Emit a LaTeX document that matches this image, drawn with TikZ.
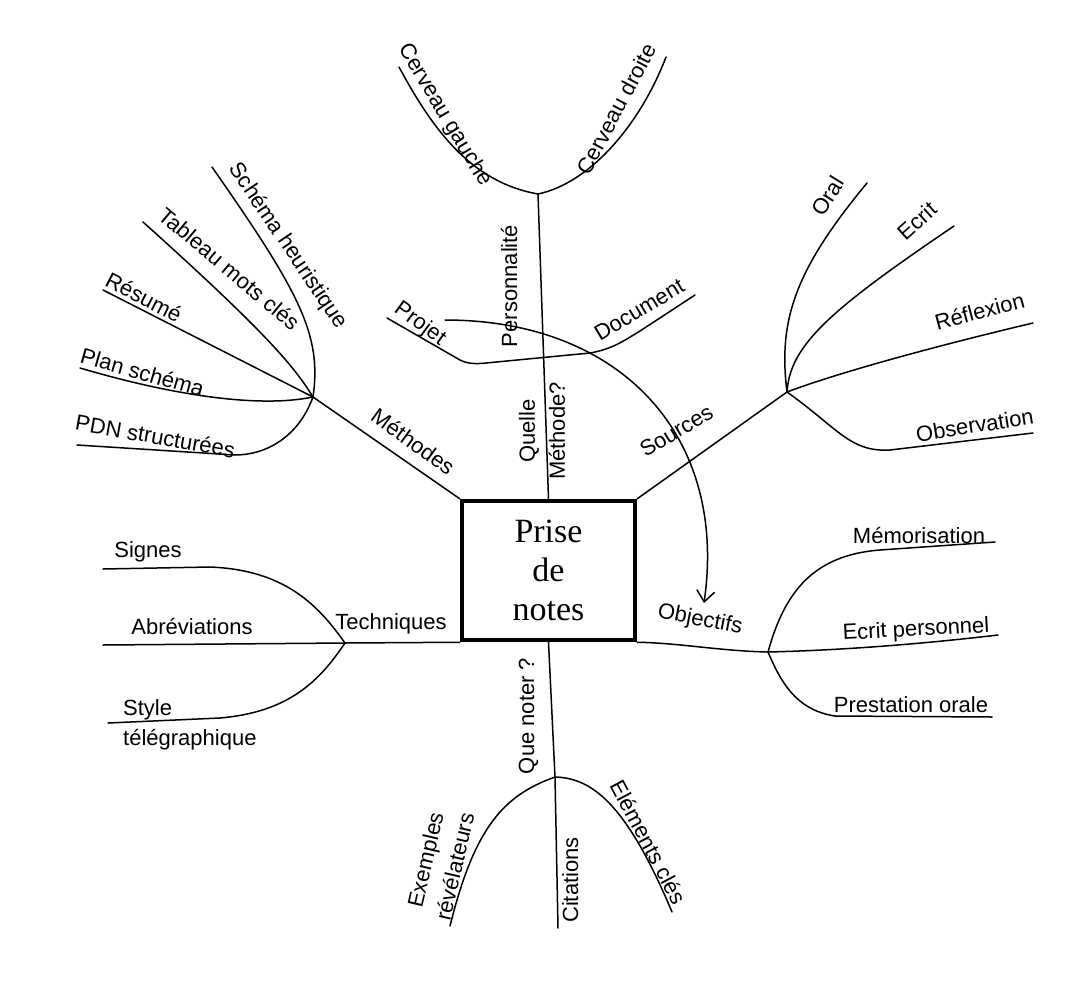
\documentclass[tikz,border=0pt]{standalone}
\usepackage{fontspec}
\setmainfont{Liberation Sans}
\newfontfamily\serifface{Liberation Serif}
\usetikzlibrary{arrows.meta}

\begin{document}
\begin{tikzpicture}[x=1pt,y=-1pt,
  >={Straight Barb[length=11pt,width=18pt]},
  branch/.style={line width=1.5pt,line cap=round,line join=round},
  word/.style={inner sep=0pt,font=\fontsize{22}{28}\selectfont,text height=16pt,text depth=4pt},
  words/.style={inner sep=0pt,font=\fontsize{22}{30}\selectfont,align=center},
  core/.style={draw,line width=4.5pt,minimum width=173pt,minimum height=139pt,
    align=center,inner sep=0pt,font=\serifface\fontsize{34}{39}\selectfont}]
\useasboundingbox (0,0) rectangle (1070,1001);
%centre
\node[core] (prise) at (548.5,570.5) {Prise\\de\\notes};
%quelle methode (top)
\coordinate (cv) at (538,194);
\coordinate (cvg) at (399,67);
\coordinate (cvd) at (666,57);
\draw[branch] (prise.north) -- (cv);
\draw[branch] (cv) .. controls (470,182) and (432,128) .. (cvg);
\draw[branch] (cv) .. controls (590,183) and (640,125) .. (cvd);
\node[word,rotate=-59] (lcg) at (445,115) {Cerveau gauche};
\node[word,rotate=62] (lcd) at (618,110) {Cerveau droite};
\node[word,rotate=90] (lpe) at (511,286) {Personnalité};
\node[words,rotate=90] (lqm) at (542,431) {Quelle\\Méthode?};
%projet / document
\coordinate (pj) at (387,318);
\coordinate (dc) at (695,295);
\draw[branch] (pj) -- (460,360) .. controls (468,364) and (476,364) .. (486,363)
  -- (590,353) .. controls (612,349) and (622,342) .. (640,331) -- (dc);
\node[word,rotate=-36] (lpj) at (420,324) {Projet};
\node[word,rotate=31] (ldc) at (640,311) {Document};
%arrow
\coordinate (fa) at (445,320);
\coordinate (fb) at (704,603);
\draw[branch,->] (fa) .. controls (620,320) and (728,435) .. (fb);
%methodes
\coordinate (mt) at (313,397);
\coordinate (sh) at (212,167);
\coordinate (tm) at (143,222);
\coordinate (rs) at (103,290);
\coordinate (ps) at (80,368);
\coordinate (pd) at (77,445);
\draw[branch] (prise.north west) -- (mt);
\draw[branch] (mt) .. controls (322,335) and (300,293) .. (sh);
\draw[branch] (mt) .. controls (295,368) and (270,336) .. (tm);
\draw[branch] (mt) -- (rs);
\draw[branch] (mt) .. controls (260,408) and (175,396) .. (ps);
\draw[branch] (mt) .. controls (298,438) and (265,455) .. (235,455) -- (pd);
\node[word,rotate=-36] (lmt) at (412,443) {Méthodes};
\node[word,rotate=-56] (lsh) at (288,246) {Schéma heuristique};
\node[word,rotate=-40] (ltm) at (228,270) {Tableau mots clés};
\node[word,rotate=-27] (lrs) at (143,299) {Résumé};
\node[word,rotate=-16] (lps) at (142,374) {Plan schéma};
\node[word,rotate=-10] (lpd) at (155,438) {PDN structurées};
%sources
\coordinate (so) at (787,392);
\coordinate (or) at (867,183);
\coordinate (ec) at (954,226);
\coordinate (rf) at (1033,323);
\coordinate (ob) at (1033,433);
\draw[branch] (prise.north east) -- (so);
\draw[branch] (so) .. controls (778,320) and (795,270) .. (or);
\draw[branch] (so) .. controls (790,345) and (830,310) .. (ec);
\draw[branch] (so) .. controls (840,372) and (940,345) .. (rf);
\draw[branch] (so) .. controls (840,430) and (850,452) .. (890,450) -- (ob);
\node[word,rotate=31] (lso) at (677,432) {Sources};
\node[word,rotate=58] (lor) at (829,197) {Oral};
\node[word,rotate=42] (lec) at (918,222) {Ecrit};
\node[word,rotate=15] (lrf) at (980,313) {Réflexion};
\node[word,rotate=9] (lob) at (975,427) {Observation};
%techniques
\coordinate (tq) at (345,643);
\coordinate (sg) at (103,569);
\coordinate (ab) at (103,645);
\coordinate (st) at (108,723);
\draw[branch] (prise.south west) -- (tq);
\draw[branch] (tq) .. controls (318,605) and (285,570) .. (210,567) -- (sg);
\draw[branch] (tq) -- (ab);
\draw[branch] (tq) .. controls (320,680) and (290,712) .. (220,718) -- (st);
\node[word] (ltq) at (391,623) {Techniques};
\node[word] (lsg) at (148,551) {Signes};
\node[word] (lab) at (192,628) {Abréviations};
\node[words,align=left,anchor=west] (lst) at (123,725) {Style\\télégraphique};
%objectifs
\coordinate (oj) at (768,652);
\coordinate (mm) at (995,542);
\coordinate (ep) at (998,635);
\coordinate (po) at (992,717);
\draw[branch] (prise.south east) .. controls (680,643) and (720,651) .. (oj);
\draw[branch] (oj) .. controls (785,590) and (815,555) .. (880,550) -- (mm);
\draw[branch] (oj) .. controls (850,650) and (930,643) .. (ep);
\draw[branch] (oj) .. controls (780,680) and (795,710) .. (835,716) -- (po);
\node[word,rotate=-11] (loj) at (700,620) {Objectifs};
\node[word] (lmm) at (919,537) {Mémorisation};
\node[word,rotate=3] (lep) at (916,630) {Ecrit personnel};
\node[word] (lpo) at (911,706) {Prestation orale};
%que noter (bottom)
\coordinate (qn) at (555,777);
\coordinate (ct) at (558,928);
\coordinate (ex) at (450,926);
\coordinate (el) at (672,912);
\draw[branch] (prise.south) -- (qn) -- (ct);
\draw[branch] (qn) .. controls (505,795) and (475,825) .. (ex);
\draw[branch] (qn) .. controls (590,778) and (625,800) .. (el);
\node[word,rotate=90] (lqn) at (528,716) {Que noter ?};
\node[word,rotate=90] (lct) at (572,880) {Citations};
\node[words,rotate=77] (lex) at (440,863) {Exemples\\révélateurs};
\node[word,rotate=-62] (lel) at (647,843) {Eléments clés};
\end{tikzpicture}
\end{document}
